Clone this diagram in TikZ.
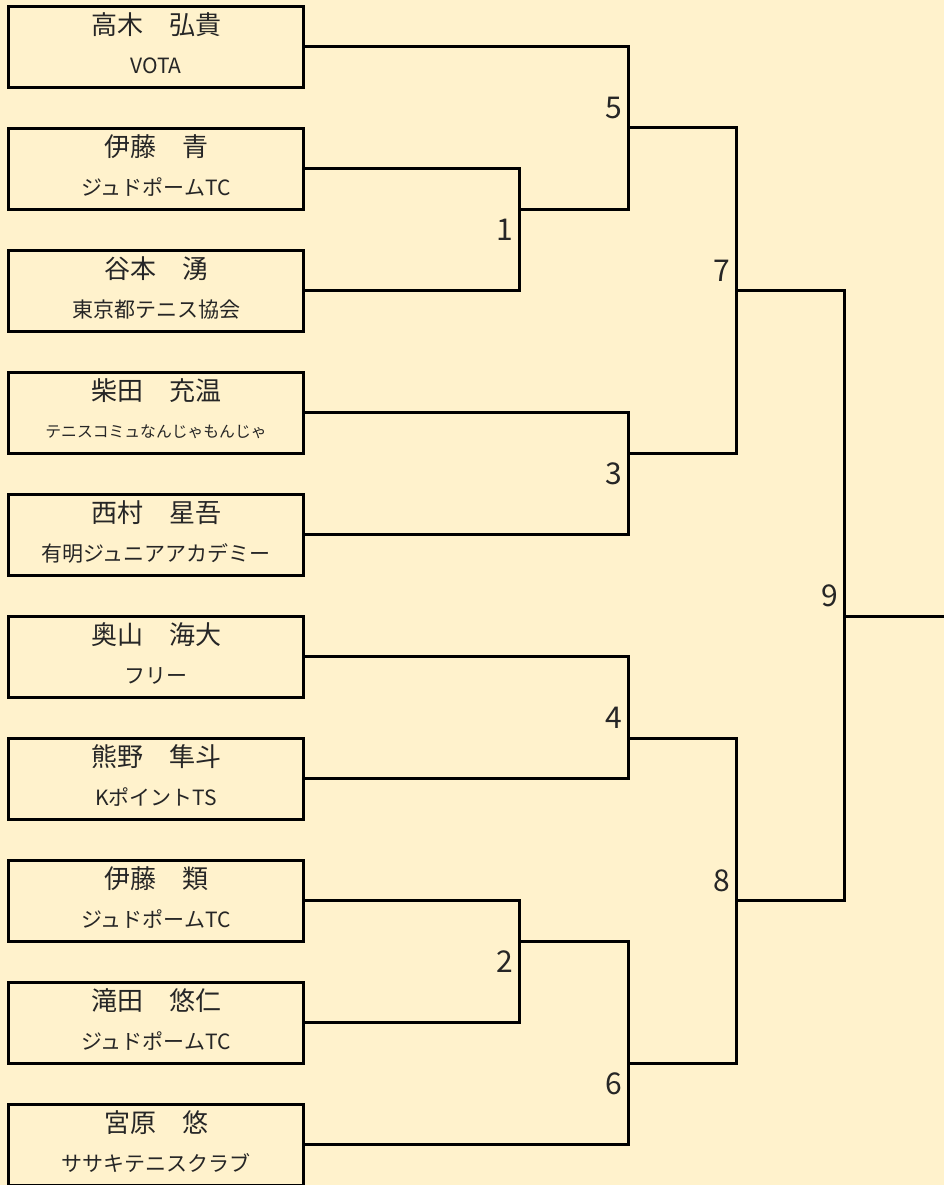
\documentclass[tikz,border=0pt]{standalone}
\usepackage{fontspec}
\setmainfont{Noto Sans CJK JP}
\definecolor{bg}{HTML}{FFF2CC}
\definecolor{ink}{HTML}{262626}
\tikzset{
  pbox/.style={draw=black, line width=3pt, rectangle, minimum width=295pt, minimum height=81.3pt, inner sep=0pt},
  pname/.style={anchor=base, inner sep=0pt, text=ink, font=\fontsize{26}{30}\selectfont},
  paff/.style={anchor=base, inner sep=0pt, text=ink, font=\fontsize{21}{25}\selectfont},
  paffs/.style={anchor=base, inner sep=0pt, text=ink, font=\fontsize{15.8}{18}\selectfont},
  mlabel/.style={anchor=base east, inner sep=0pt, text=ink, font=\fontsize{30}{34}\selectfont},
  wire/.style={draw=black, line width=3pt, line join=miter},
}
\begin{document}
\begin{tikzpicture}[x=1pt,y=-1pt]
\fill[bg] (0,0) rectangle (944,1185);
\useasboundingbox (0,0) rectangle (944,1185);

% player boxes
\node[pbox] (p1)  at (156,46.67) {};
\node[pbox] (p2)  at (156,168.67) {};
\node[pbox] (p3)  at (156,290.67) {};
\node[pbox] (p4)  at (156,412.67) {};
\node[pbox] (p5)  at (156,534.67) {};
\node[pbox] (p6)  at (156,656.67) {};
\node[pbox] (p7)  at (156,778.67) {};
\node[pbox] (p8)  at (156,900.67) {};
\node[pbox] (p9)  at (156,1022.67) {};
\node[pbox] (p10) at (156,1144.67) {};

% names and affiliations
\node[pname] (n1)  at ([yshift=12.25pt]p1.center) {高木　弘貴};
\node[paff]  (a1)  at ([yshift=-26.6pt]p1.center) {VOTA};
\node[pname] (n2)  at ([yshift=12.25pt]p2.center) {伊藤　青};
\node[paff]  (a2)  at ([yshift=-26.6pt]p2.center) {ジュドポームTC};
\node[pname] (n3)  at ([yshift=12.25pt]p3.center) {谷本　湧};
\node[paff]  (a3)  at ([yshift=-26.6pt]p3.center) {東京都テニス協会};
\node[pname] (n4)  at ([yshift=12.25pt]p4.center) {柴田　充温};
\node[paffs] (a4)  at ([yshift=-24.8pt]p4.center) {テニスコミュなんじゃもんじゃ};
\node[pname] (n5)  at ([yshift=12.25pt]p5.center) {西村　星吾};
\node[paff]  (a5)  at ([yshift=-26.6pt]p5.center) {有明ジュニアアカデミー};
\node[pname] (n6)  at ([yshift=12.25pt]p6.center) {奥山　海大};
\node[paff]  (a6)  at ([yshift=-26.6pt]p6.center) {フリー};
\node[pname] (n7)  at ([yshift=12.25pt]p7.center) {熊野　隼斗};
\node[paff]  (a7)  at ([yshift=-26.6pt]p7.center) {KポイントTS};
\node[pname] (n8)  at ([yshift=12.25pt]p8.center) {伊藤　類};
\node[paff]  (a8)  at ([yshift=-26.6pt]p8.center) {ジュドポームTC};
\node[pname] (n9)  at ([yshift=12.25pt]p9.center) {滝田　悠仁};
\node[paff]  (a9)  at ([yshift=-26.6pt]p9.center) {ジュドポームTC};
\node[pname] (n10) at ([yshift=12.25pt]p10.center) {宮原　悠};
\node[paff]  (a10) at ([yshift=-26.6pt]p10.center) {ササキテニスクラブ};

% match junction points
\coordinate (m1) at (519,209.33);
\coordinate (m2) at (519,941.33);
\coordinate (m3) at (628,453.33);
\coordinate (m4) at (628,738);
\coordinate (m5) at (628,128);
\coordinate (m6) at (628,1063.33);
\coordinate (m7) at (736,290.67);
\coordinate (m8) at (736,900.67);
\coordinate (m9) at (844,616);
\coordinate (fin) at (944,616);

% bracket lines
\draw[wire] (p2.east) -| (m1) |- (p3.east);
\draw[wire] (p1.east) -| (m5) |- (m1);
\draw[wire] (p4.east) -| (m3) |- (p5.east);
\draw[wire] (m5) -| (m7) |- (m3);
\draw[wire] (p6.east) -| (m4) |- (p7.east);
\draw[wire] (p8.east) -| (m2) |- (p9.east);
\draw[wire] (m2) -| (m6) |- (p10.east);
\draw[wire] (m4) -| (m8) |- (m6);
\draw[wire] (m7) -| (m9) |- (m8);
\draw[wire] (m9) -- (fin);

% match numbers
\node[mlabel] (l5) at (622,118.67) {5};
\node[mlabel] (l1) at (513,240.67) {1};
\node[mlabel] (l3) at (622,484.67) {3};
\node[mlabel] (l7) at (730,281.33) {7};
\node[mlabel] (l4) at (622,728.67) {4};
\node[mlabel] (l9) at (838,606.67) {9};
\node[mlabel] (l8) at (730,891.33) {8};
\node[mlabel] (l2) at (513,972.67) {2};
\node[mlabel] (l6) at (622,1094.67) {6};
\end{tikzpicture}
\end{document}
